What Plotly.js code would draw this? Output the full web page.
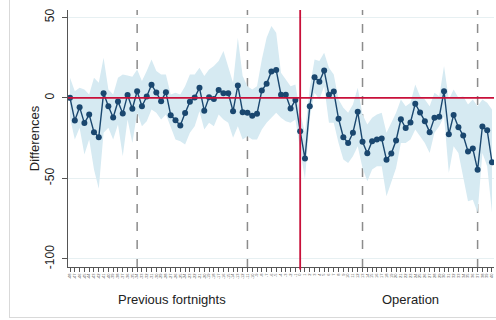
<!DOCTYPE html>
<html>
<head>
<meta charset="utf-8">
<script src="https://cdn.plot.ly/plotly-3.0.1.min.js"></script>
<style>
  html, body { margin: 0; padding: 0; background: #fff; }
  #wrap { position: relative; width: 496px; height: 320px; overflow: hidden; }
  #chart { width: 496px; height: 320px; }
  #frame { position: absolute; left: 9px; top: -2px; width: 500px; height: 320px; border: 1px solid #d9d9d9; box-sizing: border-box; pointer-events: none; }
</style>
</head>
<body>
<div id="wrap"><div id="chart"></div><div id="frame"></div></div>
<script>
// Period index (fortnights relative to operation start)
const periods = [];
for (let i = 1; i <= 89; i++) periods.push(i);
const tickLabels = periods.map(p => String(p - 49));

// Point estimates of differences
const diffs = [0,-14.1,-5.8,-15.7,-10.4,-21.3,-24.4,2.9,-5.2,-12.2,-2.3,-9.7,1.7,-6.8,4.1,-5.2,0.8,8.1,3.3,-2.1,3.5,-10.8,-13.9,-17.2,-9.5,
  -2.5,0.2,6.2,-8.1,0.4,-0.8,4.8,2.9,2.9,-8.3,7.7,-8.9,-9.3,-11.2,-9.9,4.6,8.7,16.4,17.2,1.9,1.9,-6.6,-1.4,-20.7,-37.7,
  -5.2,12.8,9.9,17.0,1.9,3.9,-13.0,-24.4,-28.0,-21.7,-8.7,-27.3,-34.4,-26.9,-25.9,-25.3,-38.5,-34.6,-26.5,-13.3,-18.8,-15.3,-3.7,-9.1,-14.5,-21.3,
  -12.4,-11.8,4.1,-22.6,-10.6,-18.2,-23.4,-33.3,-31.5,-44.7,-17.8,-20.1,-40.0];

// Confidence interval bounds
const upper = [12.4,4.1,6.2,5.2,2.1,12.4,9.3,24.8,5.2,2.1,12.4,14.5,13.9,13.0,17.6,10.4,16.6,23.8,16.6,14.5,14.5,2.1,3.1,2.1,7.2,
  14.5,14.5,18.6,13.5,17.6,19.7,22.8,29.0,19.7,9.3,37.3,13.5,7.2,5.2,7.2,23.8,37.3,44.5,40.4,15.5,11.4,7.2,8.3,-9.3,-21.7,
  6.2,23.8,22.8,28.0,18.6,14.5,-1.0,-6.2,-9.3,-4.1,6.2,-10.4,-16.6,-12.4,-10.4,-9.3,-21.7,-15.5,-9.3,-1.0,-5.2,-3.1,8.3,1.0,-1.0,-5.2,
  3.1,1.0,19.7,-1.0,5.2,0,1.0,-4.1,-1.0,-5.2,-1.0,-3.1,-7.2];
const lower = [-12.4,-25.9,-18.6,-35.2,-25.9,-44.5,-56.5,-21.7,-18.6,-25.9,-16.6,-36.2,-13.5,-28.0,-9.3,-17.6,-14.5,-7.2,-9.3,-13.5,-10.4,-18.6,-25.9,-26.9,-29.0,
  -21.7,-17.6,-8.3,-19.7,-15.5,-17.6,-10.4,-13.5,-15.5,-24.8,-17.6,-25.9,-23.8,-25.9,-25.9,-19.7,-15.5,-12.4,-9.3,-12.4,-14.5,-15.5,-13.5,-32.1,-50.7,
  -12.4,3.1,-1.0,7.2,-15.5,-15.5,-28.0,-38.3,-40.4,-36.2,-30.0,-43.5,-51.8,-44.5,-42.4,-42.4,-61.1,-52.8,-43.5,-28.0,-28.0,-25.9,-19.7,-23.8,-28.0,-34.2,
  -21.7,-17.6,-11.4,-46.6,-30.0,-34.2,-48.6,-64.2,-63.2,-71.4,-34.2,-42.4,-71.4];

// Reference lines
const dashedAt = [15, 38, 62, 86];
const operationStart = 49;
const yTicks = [50, 0, -50, -100];

const traces = [
  { x: periods, y: upper, type: 'scatter', mode: 'lines', line: {width: 0, color: 'rgba(0,0,0,0)'}, hoverinfo: 'skip', showlegend: false },
  { x: periods, y: lower, type: 'scatter', mode: 'lines', fill: 'tonexty', fillcolor: 'rgb(214,234,242)', line: {width: 0, color: 'rgba(0,0,0,0)'}, hoverinfo: 'skip', showlegend: false },
  { x: periods, y: diffs, type: 'scatter', mode: 'lines+markers', line: {color: '#1a476f', width: 1.4}, marker: {color: '#1a476f', size: 6}, showlegend: false }
];

const shapes = [];
dashedAt.forEach(v => shapes.push({type: 'line', xref: 'x', yref: 'paper', x0: v, x1: v, y0: 0, y1: 1, line: {color: '#8c8c8c', width: 1.5, dash: 'dash'}, layer: 'below'}));
shapes.push({type: 'line', xref: 'paper', yref: 'y', x0: 0, x1: 1, y0: 0, y1: 0, line: {color: '#c8103a', width: 1.8}, layer: 'above'});
shapes.push({type: 'line', xref: 'x', yref: 'paper', x0: operationStart, x1: operationStart, y0: -0.01, y1: 1, line: {color: '#c8103a', width: 1.8}, layer: 'above'});

const layout = {
  width: 496, height: 320,
  margin: {l: 68, r: 2, t: 10, b: 53},
  paper_bgcolor: 'rgba(0,0,0,0)', plot_bgcolor: '#ffffff',
  font: {family: 'Liberation Sans, Arial, sans-serif', color: '#222', size: 12},
  xaxis: {
    range: [0.58, 89.42], showgrid: false, zeroline: false,
    showline: true, linecolor: '#555', linewidth: 1,
    tickmode: 'array', tickvals: periods, ticktext: tickLabels,
    ticks: 'outside', ticklen: 4, tickcolor: '#555', tickwidth: 1,
    tickangle: -90, tickfont: {size: 4, color: '#555'}
  },
  yaxis: {
    range: [-105, 54.5], zeroline: false,
    showgrid: true, gridcolor: '#e7f0f2', gridwidth: 1,
    showline: true, linecolor: '#555', linewidth: 1,
    tickmode: 'array', tickvals: yTicks, ticktext: yTicks.map(String),
    ticks: 'outside', ticklen: 5, tickcolor: '#555',
    ticklabelstandoff: 3,
    tickangle: -90, tickfont: {size: 12, color: '#222'},
    title: {text: 'Differences', font: {size: 13, color: '#222'}, standoff: 0}
  },
  shapes: shapes,
  annotations: [
    {text: 'Previous fortnights', xref: 'paper', yref: 'paper', x: 0.244, y: -0.125, showarrow: false, font: {size: 13, color: '#222'}, xanchor: 'center', yanchor: 'middle'},
    {text: 'Operation', xref: 'paper', yref: 'paper', x: 0.805, y: -0.125, showarrow: false, font: {size: 13, color: '#222'}, xanchor: 'center', yanchor: 'middle'}
  ]
};

Plotly.newPlot('chart', traces, layout, {staticPlot: true, displayModeBar: false});
</script>
</body>
</html>
